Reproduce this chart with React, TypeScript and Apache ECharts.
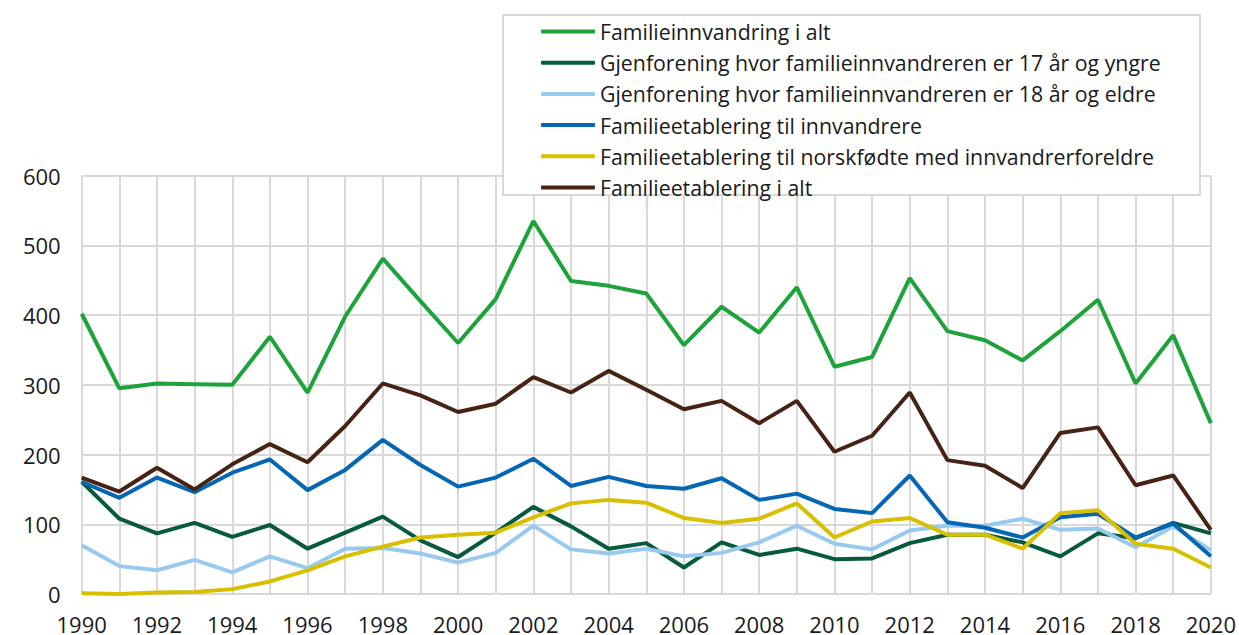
import React, { useEffect, useRef } from "react";
import * as echarts from "echarts";

const years = [
  "1990","1991","1992","1993","1994","1995","1996","1997","1998","1999",
  "2000","2001","2002","2003","2004","2005","2006","2007","2008","2009",
  "2010","2011","2012","2013","2014","2015","2016","2017","2018","2019","2020",
];

const seriesNames = [
  "Familieinnvandring i alt",
  "Gjenforening hvor familieinnvandreren er 17 år og yngre",
  "Gjenforening hvor familieinnvandreren er 18 år og eldre",
  "Familieetablering til innvandrere",
  "Familieetablering til norskfødte med innvandrerforeldre",
  "Familieetablering i alt",
];

const familieinnvandringIAlt = [
  402, 295, 302, 301, 300, 369, 289, 398, 481, 420,
  360, 423, 535, 449, 442, 431, 357, 412, 375, 440,
  326, 340, 453, 377, 364, 335, 377, 422, 302, 371, 245,
];
const gjenforening17 = [
  161, 108, 87, 102, 82, 99, 65, 88, 111, 77,
  53, 88, 125, 97, 65, 73, 38, 74, 56, 65,
  50, 51, 73, 85, 85, 74, 54, 87, 80, 102, 87,
];
const gjenforening18 = [
  70, 40, 34, 49, 31, 54, 37, 65, 66, 58,
  45, 59, 98, 64, 58, 65, 54, 59, 74, 98,
  72, 64, 91, 98, 98, 108, 92, 94, 67, 97, 63,
];
const etableringInnvandrere = [
  161, 138, 167, 146, 174, 193, 149, 178, 221, 185,
  154, 167, 194, 155, 168, 155, 151, 166, 135, 144,
  122, 116, 170, 103, 95, 81, 110, 115, 81, 101, 54,
];
const etableringNorskfodte = [
  1, 0, 2, 3, 7, 18, 34, 54, 68, 81,
  85, 88, 110, 130, 135, 131, 109, 102, 108, 130,
  81, 104, 109, 85, 85, 65, 116, 120, 72, 65, 38,
];
const familieetableringIAlt = [
  167, 147, 181, 150, 186, 215, 189, 241, 302, 285,
  261, 273, 311, 289, 320, 293, 265, 277, 245, 277,
  204, 227, 289, 192, 184, 152, 231, 239, 156, 170, 92,
];

const seriesData = [
  familieinnvandringIAlt,
  gjenforening17,
  gjenforening18,
  etableringInnvandrere,
  etableringNorskfodte,
  familieetableringIAlt,
];

const colors = ["#1ea33b", "#075a3e", "#99c9ef", "#0566b4", "#d8bf00", "#472315"];

const FONT = "'Open Sans', 'Noto Sans', sans-serif";

export default function App() {
  const ref = useRef<HTMLDivElement>(null);

  useEffect(() => {
    if (!ref.current) return;
    const chart = echarts.init(ref.current, undefined, { renderer: "svg" });
    chart.setOption({
      animation: false,
      backgroundColor: "#ffffff",
      grid: { left: 81.7, right: 24.7, top: 175.7, bottom: 41, containLabel: false },
      xAxis: {
        type: "category",
        data: years,
        boundaryGap: false,
        axisLine: { show: false },
        axisTick: { show: false },
        axisLabel: {
          interval: 1,
          color: "#1a1a1a",
          fontFamily: FONT,
          fontSize: 22,
          lineHeight: 18,
          margin: 21,
        },
        splitLine: { show: true, interval: 0, lineStyle: { color: "#d9d9d9", width: 2 } },
      },
      yAxis: {
        type: "value",
        min: 0,
        max: 600,
        interval: 100,
        axisLine: { show: false },
        axisTick: { show: false },
        axisLabel: {
          color: "#1a1a1a",
          fontFamily: FONT,
          fontSize: 22,
          margin: 21,
        },
        splitLine: { show: true, lineStyle: { color: "#d9d9d9", width: 2 } },
      },
      legend: {
        orient: "vertical",
        left: 541,
        top: 21,
        z: 10,
        icon: "roundRect",
        itemWidth: 54,
        itemHeight: 4,
        itemGap: 10.2,
        padding: 0,
        textStyle: {
          color: "#1a1a1a",
          fontFamily: FONT,
          fontSize: 21.3,
          lineHeight: 20,
        },
        data: seriesNames,
      },
      graphic: [
        {
          type: "rect",
          z: 9,
          shape: { x: 503, y: 15, width: 697, height: 180 },
          style: { fill: "#ffffff", stroke: "#d9d9d9", lineWidth: 2 },
        },
      ],
      series: seriesNames.map((name, i) => ({
        name,
        type: "line",
        data: seriesData[i],
        symbol: "none",
        color: colors[i],
        lineStyle: { color: colors[i], width: 4 },
      })),
    });
    return () => chart.dispose();
  }, []);

  return <div ref={ref} style={{ width: 1239, height: 635, position: "absolute", left: 0, top: 0 }} />;
}
